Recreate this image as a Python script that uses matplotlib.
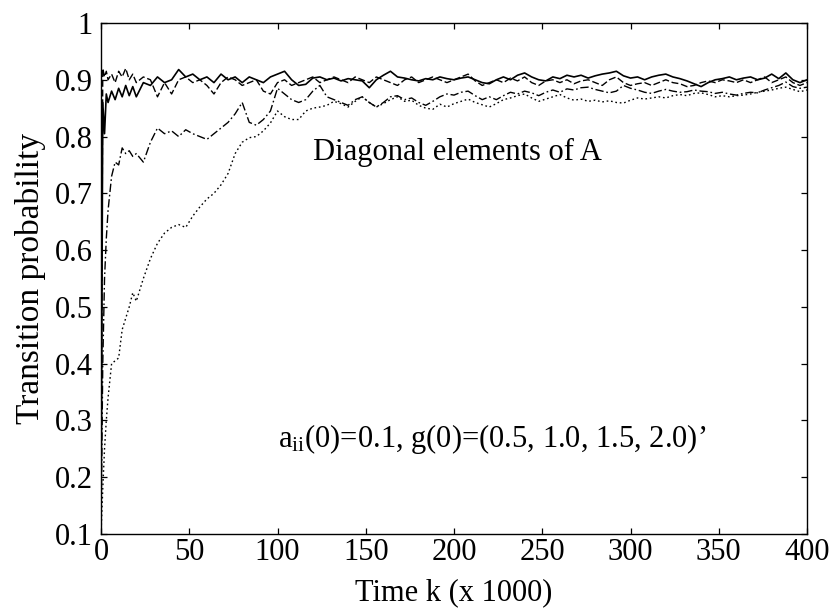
"""Diagonal elements of A: transition probability vs time"""

import numpy as np
import matplotlib
matplotlib.use("Agg")
import matplotlib.pyplot as plt

plt.rcParams["font.family"] = ["Liberation Serif", "DejaVu Serif"]
plt.rcParams["mathtext.fontset"] = "custom"
plt.rcParams["mathtext.rm"] = "Liberation Serif"
plt.rcParams["mathtext.it"] = "Liberation Serif:italic"

# ── Data ───────────────────────────────────────────────────────────────────

# time k (x 1000): fine steps at the start, then every 4
k_early = [0, 1, 2, 3, 4, 6, 8, 10, 12, 14, 16, 18, 20]
k_late = list(range(24, 401, 4))
time_k = np.array(k_early + k_late, dtype=float)

a_solid = [
    0.10, 0.86, 0.805, 0.875, 0.86, 0.88, 0.865, 0.885, 0.87, 0.89, 0.872, 0.888, 0.87,
    0.895, 0.89, 0.905, 0.895, 0.90, 0.918, 0.905, 0.91, 0.90, 0.905, 0.895, 0.91,
    0.90, 0.905, 0.895, 0.905, 0.90, 0.895, 0.905, 0.91, 0.915, 0.90, 0.89, 0.892,
    0.903, 0.905, 0.90, 0.903, 0.898, 0.902, 0.90, 0.898, 0.886, 0.90, 0.908, 0.915,
    0.905, 0.903, 0.90, 0.898, 0.902, 0.90, 0.905, 0.902, 0.90, 0.903, 0.905, 0.90,
    0.895, 0.893, 0.90, 0.905, 0.90, 0.908, 0.912, 0.905, 0.90, 0.898, 0.905, 0.902,
    0.908, 0.905, 0.908, 0.903, 0.907, 0.91, 0.912, 0.915, 0.907, 0.903, 0.905, 0.90,
    0.905, 0.908, 0.91, 0.905, 0.902, 0.898, 0.893, 0.888, 0.895, 0.90, 0.902, 0.905,
    0.90, 0.903, 0.905, 0.90, 0.903, 0.91, 0.902, 0.912, 0.90, 0.895, 0.90,
]

a_dashed = [
    0.10, 0.92, 0.905, 0.915, 0.90, 0.91, 0.895, 0.915, 0.905, 0.92, 0.90, 0.91, 0.895,
    0.905, 0.90, 0.87, 0.895, 0.875, 0.90, 0.905, 0.895, 0.90, 0.89, 0.875, 0.895,
    0.905, 0.90, 0.89, 0.895, 0.90, 0.88, 0.875, 0.895, 0.90, 0.89, 0.895, 0.90,
    0.905, 0.895, 0.90, 0.905, 0.90, 0.895, 0.905, 0.90, 0.895, 0.905, 0.90, 0.895,
    0.89, 0.90, 0.905, 0.895, 0.90, 0.905, 0.90, 0.895, 0.90, 0.905, 0.91, 0.898,
    0.89, 0.895, 0.90, 0.895, 0.903, 0.898, 0.905, 0.895, 0.89, 0.898, 0.90, 0.895,
    0.90, 0.893, 0.898, 0.90, 0.895, 0.89, 0.90, 0.905, 0.895, 0.89, 0.893, 0.895,
    0.89, 0.895, 0.90, 0.895, 0.893, 0.888, 0.89, 0.895, 0.898, 0.895, 0.90, 0.898,
    0.895, 0.90, 0.895, 0.90, 0.905, 0.895, 0.90, 0.905, 0.895, 0.89, 0.895,
]

a_dashdot = [
    0.10, 0.40, 0.55, 0.62, 0.67, 0.73, 0.755, 0.75, 0.78, 0.77, 0.775, 0.765, 0.77,
    0.755, 0.79, 0.815, 0.805, 0.81, 0.80, 0.812, 0.805, 0.80, 0.795, 0.805, 0.815,
    0.825, 0.84, 0.86, 0.825, 0.82, 0.83, 0.845, 0.885, 0.875, 0.865, 0.86, 0.865,
    0.88, 0.89, 0.87, 0.865, 0.86, 0.855, 0.865, 0.87, 0.86, 0.852, 0.86, 0.87,
    0.872, 0.865, 0.868, 0.86, 0.855, 0.862, 0.87, 0.875, 0.873, 0.878, 0.88, 0.872,
    0.865, 0.87, 0.865, 0.872, 0.878, 0.875, 0.88, 0.877, 0.872, 0.878, 0.882, 0.878,
    0.884, 0.882, 0.886, 0.887, 0.883, 0.88, 0.877, 0.88, 0.89, 0.885, 0.882, 0.878,
    0.876, 0.88, 0.883, 0.88, 0.878, 0.879, 0.882, 0.88, 0.879, 0.876, 0.878, 0.875,
    0.873, 0.876, 0.878, 0.877, 0.882, 0.886, 0.89, 0.896, 0.888, 0.885, 0.887,
]

a_dotted = [
    0.10, 0.18, 0.25, 0.30, 0.34, 0.40, 0.405, 0.41, 0.46, 0.48, 0.50, 0.525, 0.51,
    0.55, 0.585, 0.612, 0.63, 0.64, 0.645, 0.64, 0.66, 0.676, 0.69, 0.70, 0.715,
    0.735, 0.77, 0.79, 0.798, 0.80, 0.81, 0.824, 0.845, 0.835, 0.83, 0.83, 0.845,
    0.85, 0.852, 0.855, 0.862, 0.858, 0.852, 0.862, 0.87, 0.86, 0.852, 0.858, 0.865,
    0.87, 0.862, 0.864, 0.855, 0.85, 0.848, 0.857, 0.852, 0.858, 0.862, 0.866, 0.86,
    0.856, 0.852, 0.858, 0.865, 0.868, 0.872, 0.875, 0.868, 0.862, 0.866, 0.87, 0.874,
    0.868, 0.864, 0.866, 0.862, 0.864, 0.861, 0.863, 0.86, 0.859, 0.864, 0.868, 0.866,
    0.868, 0.87, 0.868, 0.872, 0.874, 0.872, 0.876, 0.877, 0.874, 0.87, 0.872, 0.87,
    0.872, 0.873, 0.875, 0.878, 0.88, 0.882, 0.885, 0.887, 0.883, 0.879, 0.882,
]

SERIES = [
    (a_solid, "-", 1.2),
    (a_dashed, (0, (5, 2)), 1.0),
    (a_dashdot, (0, (6, 2, 1.2, 2)), 1.0),
    (a_dotted, (0, (1.2, 2)), 1.0),
]

X_TICKS = np.arange(0, 401, 50)
Y_TICKS = [0.1, 0.2, 0.3, 0.4, 0.5, 0.6, 0.7, 0.8, 0.9, 1.0]
Y_TICKLABELS = ["0.1", "0.2", "0.3", "0.4", "0.5", "0.6", "0.7", "0.8", "0.9", "1"]

FS = 22

# ── Figure ─────────────────────────────────────────────────────────────────

fig = plt.figure(figsize=(8.31, 6.09), dpi=100)
ax = fig.add_axes([101 / 831, 1 - 534 / 609, 706 / 831, 511 / 609])

for vals, ls, lw in SERIES:
    ax.plot(time_k, vals, color="black", linestyle=ls, linewidth=lw)

ax.set_xlim(0, 400)
ax.set_ylim(0.1, 1.0)
ax.set_xticks(X_TICKS)
ax.set_xticklabels([str(v) for v in X_TICKS])
ax.set_yticks(Y_TICKS)
ax.set_yticklabels(Y_TICKLABELS)

ax.tick_params(direction="in", length=4.5, width=0.9, labelsize=FS,
               top=True, right=True)
ax.tick_params(axis="x", pad=3)
ax.tick_params(axis="y", pad=6)
for sp in ax.spines.values():
    sp.set_linewidth(1.0)

ax.set_xlabel("Time k (x 1000)", fontsize=FS, labelpad=8)
ax.set_ylabel("Transition probability", fontsize=24, labelpad=6)

ax.text(120, 0.758, "Diagonal elements of A", fontsize=FS, va="baseline")
ax.text(100, 0.253, r"a$_{\rm ii}$(0)=0.1, g(0)=(0.5, 1.0, 1.5, 2.0)’",
        fontsize=FS, va="baseline")

plt.savefig("out.png", dpi=100, facecolor="white")
plt.close()
